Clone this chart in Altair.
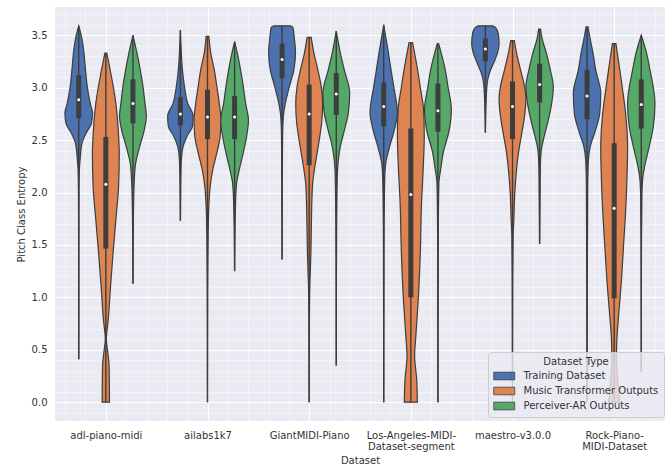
import json
import altair as alt
import pandas as pd

# ---- categories -------------------------------------------------------------
DATASETS = [
    "adl-piano-midi",
    "ailabs1k7",
    "GiantMIDI-Piano",
    "Los-Angeles-MIDI-Dataset-segment",
    "maestro-v3.0.0",
    "Rock-Piano-MIDI-Dataset",
]
TICK_LABELS = [
    ["adl-piano-midi"],
    ["ailabs1k7"],
    ["GiantMIDI-Piano"],
    ["Los-Angeles-MIDI-", "Dataset-segment"],
    ["maestro-v3.0.0"],
    ["Rock-Piano-", "MIDI-Dataset"],
]
TYPES = ["Training Dataset", "Music Transformer Outputs", "Perceiver-AR Outputs"]
COLORS = ["#4C72B0", "#DD8452", "#55A868"]

# ---- violin profiles: (pitch-class-entropy levels, relative density) ---------
# one tuple per dataset type, in TYPES order
ADL = [
    ([3.59, 3.49, 3.33, 3.17, 3.01, 2.85, 2.76, 2.66, 2.57, 2.47, 2.31, 2.22, 2.0, 1.5, 1.0, 0.41],
     [0.0, 0.2, 0.39, 0.5, 0.63, 0.85, 1.02, 0.94, 0.56, 0.24, 0.1, 0.05, 0.02, 0.01, 0.01, 0.0]),
    ([3.33, 3.17, 2.85, 2.54, 2.38, 2.06, 1.74, 1.43, 1.11, 0.79, 0.6, 0.48, 0.35, 0.0],
     [0.07, 0.32, 0.74, 0.94, 0.99, 0.94, 0.74, 0.54, 0.35, 0.18, 0.04, 0.14, 0.24, 0.27]),
    ([3.5, 3.33, 3.17, 3.01, 2.85, 2.73, 2.6, 2.44, 2.28, 2.12, 1.9, 1.5, 1.13],
     [0.0, 0.3, 0.54, 0.74, 0.89, 0.99, 0.84, 0.5, 0.2, 0.1, 0.05, 0.015, 0.0]),
]
AILABS = [
    ([3.55, 3.33, 3.17, 3.01, 2.85, 2.73, 2.63, 2.54, 2.44, 2.31, 2.1, 1.73],
     [0.0, 0.07, 0.15, 0.3, 0.54, 0.94, 0.89, 0.5, 0.2, 0.07, 0.03, 0.0]),
    ([3.49, 3.33, 3.17, 3.01, 2.85, 2.69, 2.54, 2.38, 2.22, 2.06, 1.87, 1.59, 1.0, 0.0],
     [0.1, 0.24, 0.5, 0.69, 0.87, 0.99, 0.94, 0.69, 0.39, 0.2, 0.1, 0.05, 0.015, 0.0]),
    ([3.44, 3.33, 3.17, 3.01, 2.85, 2.69, 2.54, 2.38, 2.22, 2.09, 1.9, 1.25],
     [0.0, 0.2, 0.44, 0.64, 0.81, 1.02, 0.89, 0.64, 0.35, 0.15, 0.07, 0.0]),
]
GIANT = [
    ([3.59, 3.575, 3.49, 3.33, 3.17, 3.01, 2.85, 2.73, 2.54, 2.0, 1.36],
     [0.6, 0.8, 0.89, 0.99, 0.87, 0.54, 0.24, 0.1, 0.04, 0.015, 0.0]),
    ([3.48, 3.33, 3.17, 3.01, 2.85, 2.69, 2.54, 2.38, 2.22, 2.06, 1.74, 1.43, 1.11, 0.79, 0.0],
     [0.15, 0.35, 0.64, 0.89, 0.99, 0.94, 0.79, 0.59, 0.39, 0.24, 0.17, 0.13, 0.05, 0.02, 0.0]),
    ([3.54, 3.33, 3.17, 2.95, 2.76, 2.6, 2.44, 2.31, 2.12, 1.5, 0.35],
     [0.0, 0.3, 0.59, 0.99, 0.89, 0.61, 0.3, 0.15, 0.07, 0.02, 0.0]),
]
LOS_ANGELES = [
    ([3.6, 3.33, 3.17, 3.01, 2.76, 2.6, 2.44, 2.28, 2.12, 1.5, 0.0],
     [0.0, 0.35, 0.54, 0.74, 1.01, 0.79, 0.44, 0.15, 0.07, 0.02, 0.0]),
    ([3.43, 3.17, 3.01, 2.79, 2.54, 2.22, 1.9, 1.43, 1.01, 0.63, 0.44, 0.22, 0.0],
     [0.13, 0.5, 0.69, 0.94, 0.99, 0.91, 0.79, 0.7, 0.56, 0.37, 0.28, 0.43, 0.48]),
    ([3.42, 3.17, 3.01, 2.79, 2.6, 2.38, 2.22, 2.09, 1.5, 0.0],
     [0.05, 0.54, 0.74, 0.99, 0.84, 0.39, 0.2, 0.07, 0.02, 0.0]),
]
MAESTRO = [
    ([3.59, 3.575, 3.52, 3.42, 3.33, 3.23, 3.14, 3.04, 2.85, 2.57],
     [0.52, 0.74, 0.94, 1.01, 0.89, 0.59, 0.3, 0.13, 0.05, 0.0]),
    ([3.45, 3.33, 3.17, 3.01, 2.89, 2.73, 2.57, 2.38, 2.22, 2.0, 1.74, 1.59, 1.0, 0.0],
     [0.13, 0.3, 0.59, 0.89, 0.99, 0.89, 0.69, 0.44, 0.3, 0.17, 0.1, 0.05, 0.015, 0.0]),
    ([3.56, 3.46, 3.33, 3.17, 3.01, 2.85, 2.69, 2.54, 2.41, 2.22, 1.51],
     [0.07, 0.2, 0.5, 0.79, 1.01, 0.89, 0.64, 0.35, 0.13, 0.05, 0.0]),
]
ROCK = [
    ([3.58, 3.46, 3.33, 3.17, 2.95, 2.76, 2.6, 2.44, 2.31, 2.06, 1.0, 0.0],
     [0.07, 0.24, 0.44, 0.64, 1.01, 0.94, 0.64, 0.24, 0.1, 0.05, 0.015, 0.0]),
    ([3.42, 3.27, 3.01, 2.76, 2.44, 2.12, 1.81, 1.49, 1.17, 0.86, 0.6, 0.41, 0.22, 0.0],
     [0.13, 0.3, 0.59, 0.84, 0.99, 0.94, 0.84, 0.69, 0.54, 0.35, 0.2, 0.17, 0.26, 0.4]),
    ([3.5, 3.33, 3.17, 2.85, 2.63, 2.44, 2.28, 2.16, 2.0, 1.5, 0.29],
     [0.0, 0.39, 0.64, 1.01, 0.89, 0.59, 0.3, 0.13, 0.05, 0.015, 0.0]),
]
PROFILES = [ADL, AILABS, GIANT, LOS_ANGELES, MAESTRO, ROCK]

# ---- inner box statistics (q1, median, q3) per dataset, in TYPES order -------
Q1 = [
    [2.71, 1.465, 2.66], [2.64, 2.51, 2.51], [3.09, 2.26, 2.74],
    [2.63, 1.0, 2.58], [3.25, 2.51, 2.86], [2.70, 0.99, 2.61],
]
MEDIAN = [
    [2.885, 2.08, 2.85], [2.75, 2.72, 2.72], [3.27, 2.75, 2.94],
    [2.82, 1.98, 2.78], [3.37, 2.82, 3.03], [2.92, 1.85, 2.84],
]
Q3 = [
    [3.12, 2.53, 3.08], [2.91, 2.98, 2.92], [3.42, 3.03, 3.14],
    [3.05, 2.61, 3.04], [3.47, 3.06, 3.23], [3.17, 2.47, 3.08],
]

# ---- layout of the dodged violins ------------------------------------------
SLOT = 0.8 / len(TYPES)      # width given to each hue inside a category
HALF = SLOT / 2              # maximum half-width of a violin

outline_rows, stat_rows = [], []
for i, name in enumerate(DATASETS):
    for j, kind in enumerate(TYPES):
        levels, dens = PROFILES[i][j]
        xc = i + (j - 1) * SLOT
        for lv, d in zip(levels, dens):
            outline_rows.append({
                "dataset": name, "kind": kind, "vid": f"{i}-{j}",
                "y": lv, "xl": xc - d * HALF, "xr": xc + d * HALF,
            })
        stat_rows.append({
            "dataset": name, "kind": kind, "xc": xc,
            "lo": min(levels), "hi": max(levels),
            "q1": Q1[i][j], "med": MEDIAN[i][j], "q3": Q3[i][j],
        })

outlines = pd.DataFrame(outline_rows)
stats = pd.DataFrame(stat_rows)

FONT = "DejaVu Sans"
TEXT = "#333333"
EDGE = "#3d3d3d"

x_scale = alt.Scale(domain=[-0.5, 5.5], nice=False, zero=False)
y_scale = alt.Scale(domain=[-0.18, 3.77], nice=False, zero=False)

label_expr = json.dumps(TICK_LABELS) + "[datum.value]"

x_major = alt.Axis(
    values=list(range(len(DATASETS))), labelExpr=label_expr, title="Dataset",
    orient="bottom", ticks=False, tickSize=0, domain=False, labelAngle=0,
    labelFont=FONT, labelFontSize=10, labelColor=TEXT, labelPadding=9,
    labelLineHeight=11.5, labelOverlap=False, labelLimit=200,
    titleFont=FONT, titleFontSize=10, titleFontWeight="normal", titleColor=TEXT,
    titlePadding=4, grid=True, gridColor="white", gridWidth=1,
)
y_major = alt.Axis(
    values=[0, 0.5, 1.0, 1.5, 2.0, 2.5, 3.0, 3.5], format=".1f",
    title="Pitch Class Entropy", orient="left", ticks=False, tickSize=0,
    domain=False, labelFont=FONT, labelFontSize=10, labelColor=TEXT,
    labelPadding=8, titleFont=FONT, titleFontSize=10, titleFontWeight="normal",
    titleColor=TEXT, titlePadding=5, grid=True, gridColor="white", gridWidth=1,
)
# light minor grid lines (no labels) on the opposite sides
x_minor = alt.Axis(
    values=[round(-0.4 + 0.2 * k, 1) for k in range(30)], orient="top",
    labels=False, ticks=False, domain=False, title=None,
    grid=True, gridColor="white", gridWidth=0.6, gridOpacity=0.7,
)
y_minor = alt.Axis(
    values=[round(-0.1 + 0.1 * k, 1) for k in range(39)], orient="right",
    labels=False, ticks=False, domain=False, title=None,
    grid=True, gridColor="white", gridWidth=0.6, gridOpacity=0.7,
)

# wide legend swatch: nominal symbol box is 8.5 px, the path reaches 21 px right
SWATCH = "M-1,-0.9L3.94,-0.9L3.94,0.9L-1,0.9Z"

violins = alt.Chart(outlines).mark_area(
    orient="horizontal", interpolate="monotone",
    stroke=EDGE, strokeWidth=1.2, opacity=1,
).encode(
    y=alt.Y("y:Q", scale=y_scale, axis=y_major),
    x=alt.X("xl:Q", scale=x_scale, axis=x_major),
    x2="xr:Q",
    detail="vid:N",
    color=alt.Color(
        "kind:N",
        scale=alt.Scale(domain=TYPES, range=COLORS),
        legend=alt.Legend(
            title="Dataset Type", orient="none", legendX=433, legendY=345,
            direction="vertical", titleAnchor="middle",
            titleFont=FONT, titleFontSize=10, titleFontWeight="normal",
            titleColor=TEXT, titlePadding=4,
            labelFont=FONT, labelFontSize=10, labelColor=TEXT, labelLimit=300,
            labelOffset=20.5, rowPadding=3,
            symbolType=SWATCH, symbolSize=72,
            symbolStrokeColor=EDGE, symbolStrokeWidth=0.8, symbolOpacity=1,
            padding=5, fillColor="rgba(234,234,242,0.8)",
            strokeColor="#cccccc", cornerRadius=3,
        ),
    ),
)

whiskers = alt.Chart(stats).mark_rule(color=EDGE, strokeWidth=1.4).encode(
    x=alt.X("xc:Q", scale=x_scale, axis=x_minor),
    y=alt.Y("lo:Q", scale=y_scale, axis=y_minor),
    y2="hi:Q",
)

boxes = alt.Chart(stats).mark_rule(color=EDGE, strokeWidth=5).encode(
    x=alt.X("xc:Q", scale=x_scale, axis=None),
    y=alt.Y("q1:Q", scale=y_scale, axis=None),
    y2="q3:Q",
)

medians = alt.Chart(stats).mark_point(
    filled=True, color="white", size=9, opacity=1, strokeWidth=0,
).encode(
    x=alt.X("xc:Q", scale=x_scale, axis=None),
    y=alt.Y("med:Q", scale=y_scale, axis=None),
)

chart = alt.layer(violins, whiskers, boxes, medians).resolve_axis(
    x="independent", y="independent"
).properties(
    width=610, height=414,
    autosize=alt.AutoSizeParams(type="none"),
    padding={"left": 55, "top": 7, "right": 5, "bottom": 47},
    background="white",
).configure_view(fill="#EAEAF2", stroke=None)

chart.save("out.html", embed_options={"renderer": "svg", "actions": False})
